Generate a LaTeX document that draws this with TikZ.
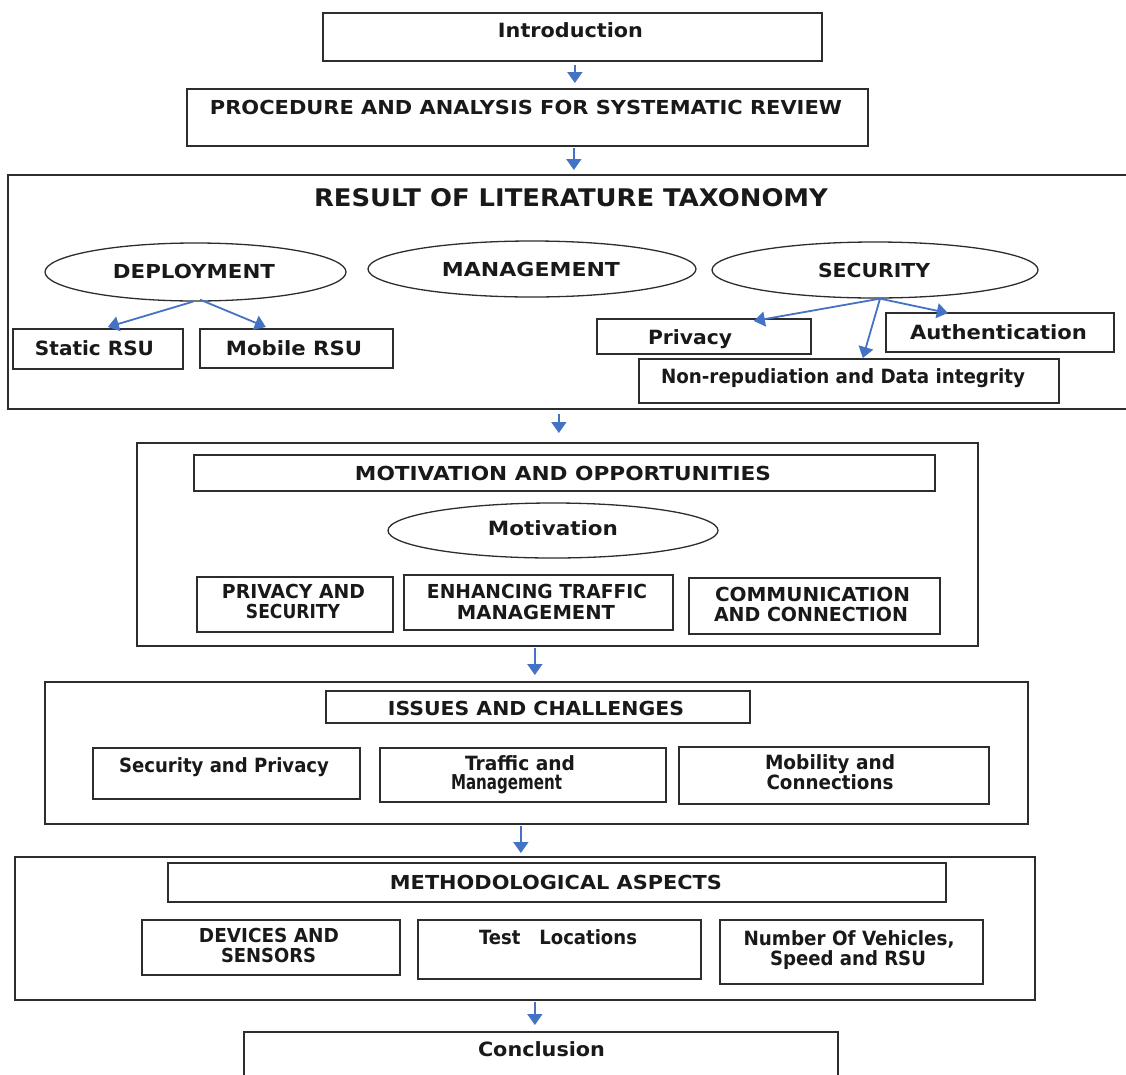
\documentclass[tikz,border=0pt]{standalone}
\usepackage{fontspec}
\setmainfont{DejaVu Sans}
\usetikzlibrary{arrows.meta,shapes.geometric}
\definecolor{arrblue}{RGB}{68,114,196}
\definecolor{lineg}{RGB}{45,45,45}
\newcommand\fc[2]{\resizebox{#1pt}{14.3pt}{#2}}
\newcommand\fm[2]{\resizebox{#1pt}{14.9pt}{#2}}
\begin{document}
\begin{tikzpicture}[x=1pt,y=-1pt,
  box/.style={draw=lineg, line width=1.7pt, rectangle, inner sep=0pt, anchor=north west},
  ell/.style={draw=lineg, line width=1.3pt, ellipse, inner sep=0pt},
  lbl/.style={anchor=base, inner sep=0pt, text=black!90, font=\bfseries},
  arr/.style={draw=arrblue, line width=1.8pt, -{Triangle[width=15pt,length=11pt]}}]
\useasboundingbox (0,0) rectangle (1126,1074);
\begin{scope}
\clip (0,0) rectangle (1126,1074);
% boxes
\node[box, minimum width=499, minimum height=48] (intro) at (322,12) {};
\node[box, minimum width=681, minimum height=57] (proc) at (186,88) {};
\node[box, minimum width=1125, minimum height=234] (tax) at (7,174) {};
\node[box, minimum width=170, minimum height=40] (static) at (12,328) {};
\node[box, minimum width=193, minimum height=39] (mobile) at (199,328) {};
\node[box, minimum width=214, minimum height=35] (privacy) at (596,318) {};
\node[box, minimum width=228, minimum height=39] (auth) at (885,312) {};
\node[box, minimum width=420, minimum height=44] (nonrep) at (638,358) {};
\node[ell, minimum width=301, minimum height=58] (dep) at (195.5,272) {};
\node[ell, minimum width=328, minimum height=56] (man) at (532,269) {};
\node[ell, minimum width=326, minimum height=56] (sec) at (875,270) {};
\node[box, minimum width=841, minimum height=203] (motout) at (136,442) {};
\node[box, minimum width=741, minimum height=36] (mothead) at (193,454) {};
\node[ell, minimum width=330, minimum height=55] (motell) at (553,530.5) {};
\node[box, minimum width=196, minimum height=55] (privsec) at (196,576) {};
\node[box, minimum width=269, minimum height=55] (enh) at (403,574) {};
\node[box, minimum width=251, minimum height=56] (comm) at (688,577) {};
\node[box, minimum width=983, minimum height=142] (issout) at (44,681) {};
\node[box, minimum width=424, minimum height=32] (isshead) at (325,690) {};
\node[box, minimum width=267, minimum height=51] (secpriv) at (92,747) {};
\node[box, minimum width=286, minimum height=54] (traffic) at (379,747) {};
\node[box, minimum width=310, minimum height=57] (mobility) at (678,746) {};
\node[box, minimum width=1020, minimum height=143] (methout) at (14,856) {};
\node[box, minimum width=778, minimum height=39] (methhead) at (167,862) {};
\node[box, minimum width=258, minimum height=55] (devices) at (141,919) {};
\node[box, minimum width=283, minimum height=59] (test) at (417,919) {};
\node[box, minimum width=263, minimum height=64] (number) at (719,919) {};
\node[box, minimum width=594, minimum height=60] (concl) at (243,1031) {};
% labels
\node[lbl] (t1) at (570.5,37) {\fm{145}{Introduction}};
\node[lbl] (t2) at (526,114) {\fc{632}{PROCEDURE AND ANALYSIS FOR SYSTEMATIC REVIEW}};
\node[lbl] (t3) at (571,206) {\resizebox{514pt}{18pt}{RESULT OF LITERATURE TAXONOMY}};
\node[lbl] (t4) at (194,278) {\fc{162}{DEPLOYMENT}};
\node[lbl] (t5) at (531,276) {\fc{178}{MANAGEMENT}};
\node[lbl] (t6) at (874,277) {\fc{112}{SECURITY}};
\node[lbl] (t7) at (94.5,355) {\fm{119}{Static RSU}};
\node[lbl] (t8) at (294,355) {\fm{136}{Mobile RSU}};
\node[lbl] (t9) at (690,344) {\fm{84}{Privacy}};
\node[lbl] (t10) at (998.5,339) {\fm{177}{Authentication}};
\node[lbl] (t11) at (843,383) {\fm{364}{Non-repudiation and Data integrity}};
\node[lbl] (t12) at (563,480) {\fc{416}{MOTIVATION AND OPPORTUNITIES}};
\node[lbl] (t13) at (553,535) {\fm{130}{Motivation}};
\node[lbl] (t14) at (293.5,598) {\fc{143}{PRIVACY AND}};
\node[lbl] (t15) at (293,618) {\fc{94}{SECURITY}};
\node[lbl] (t16) at (537,598) {\fc{220}{ENHANCING TRAFFIC}};
\node[lbl] (t17) at (536,619) {\fc{158}{MANAGEMENT}};
\node[lbl] (t18) at (812.5,601) {\fc{195}{COMMUNICATION}};
\node[lbl] (t19) at (811,621) {\fc{194}{AND CONNECTION}};
\node[lbl] (t20) at (536,715) {\fc{296}{ISSUES AND CHALLENGES}};
\node[lbl] (t21) at (224,772) {\fm{210}{Security and Privacy}};
\node[lbl] (t22) at (520,770) {\fm{110}{Traffic and}};
\node[lbl] (t23) at (506.5,789) {\fm{111}{Management}};
\node[lbl] (t24) at (830,769) {\fm{130}{Mobility and}};
\node[lbl] (t25) at (830,789) {\fm{127}{Connections}};
\node[lbl] (t26) at (556,889) {\fc{332}{METHODOLOGICAL ASPECTS}};
\node[lbl] (t27) at (269,942) {\fc{140}{DEVICES AND}};
\node[lbl] (t28) at (268.5,962) {\fc{95}{SENSORS}};
\node[lbl] (t29) at (558,944) {\fm{158}{Test\ \ \ Locations}};
\node[lbl] (t30) at (849,945) {\fm{211}{Number Of Vehicles,}};
\node[lbl] (t31) at (848,965) {\fm{156}{Speed and RSU}};
\node[lbl] (t32) at (541.5,1056) {\fm{127}{Conclusion}};
% flow arrows
\draw[arr, shorten <=3pt, shorten >=5pt] ([xshift=2.5pt]intro.south) -- ([xshift=2.5pt]intro.south |- proc.north);
\draw[arr, shorten <=1pt, shorten >=4pt] ([xshift=46.5pt]proc.south) -- ([xshift=46.5pt]proc.south |- tax.north);
\draw[arr, shorten <=4pt, shorten >=9pt] ([xshift=-11.5pt]tax.south) -- ([xshift=-11.5pt]tax.south |- motout.north);
\draw[arr, shorten <=1pt, shorten >=6pt] ([xshift=-22.5pt]motout.south) -- ([xshift=-22.5pt]motout.south |- issout.north);
\draw[arr, shorten <=1pt, shorten >=3pt] ([xshift=-15.5pt]issout.south) -- ([xshift=-15.5pt]issout.south |- methout.north);
\draw[arr, shorten <=1pt, shorten >=6pt] ([xshift=10pt]methout.south) -- ([xshift=10pt]methout.south |- concl.north);
% taxonomy arrows
\draw[arr] ([xshift=-2.5pt]dep.south) -- ([xshift=10pt,yshift=1pt]static.north);
\draw[arr] ([xshift=4.5pt,yshift=2pt]dep.south) -- ([xshift=-30.5pt,yshift=1pt]mobile.north);
\draw[arr] ([xshift=5pt]sec.south) -- ([xshift=50pt,yshift=-3pt]privacy.north);
\draw[arr] ([xshift=5pt]sec.south) -- ([xshift=14pt]nonrep.north);
\draw[arr] ([xshift=5pt]sec.south) -- ([xshift=-52pt,yshift=-1pt]auth.north);
\end{scope}
\end{tikzpicture}
\end{document}
